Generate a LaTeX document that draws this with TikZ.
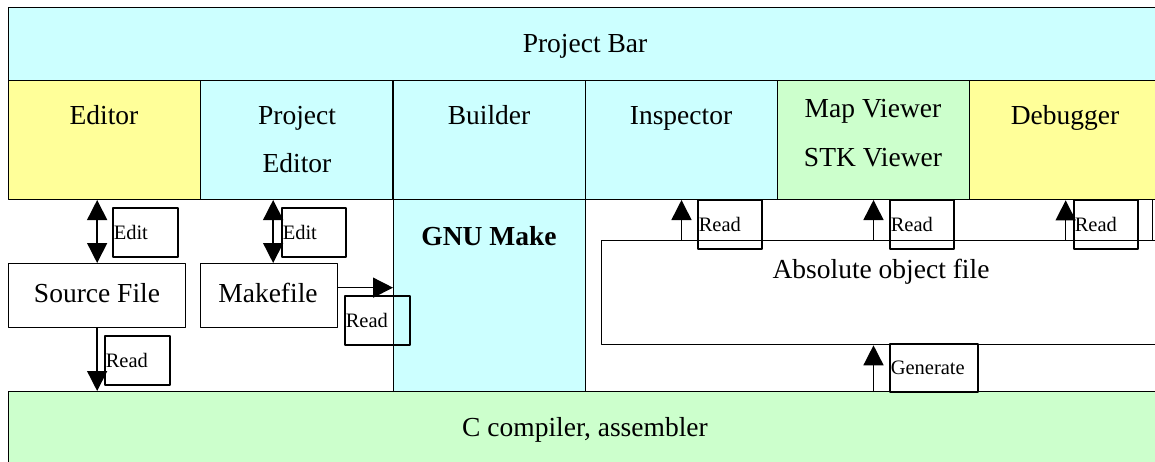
\documentclass[tikz,border=0pt]{standalone}
\usepackage{fontspec}
\setmainfont{Liberation Serif}
\usetikzlibrary{arrows.meta,positioning}
\definecolor{cyanbg}{HTML}{CCFFFF}
\definecolor{yelbg}{HTML}{FFFF99}
\definecolor{grnbg}{HTML}{CCFFCC}
\begin{document}
\begin{tikzpicture}[x=1pt, y=-1pt, line join=round, >={Triangle[width=20pt,length=20pt]},
  font=\rmfamily\fontsize{27.5pt}{48pt}\selectfont,
  blk/.style={draw, line width=1.3pt, anchor=north west, inner sep=0pt},
  tool/.style={draw, line width=1pt, anchor=north west, minimum width=192pt, minimum height=119pt, inner sep=0pt},
  txt/.style={anchor=base, inner sep=0pt},
  lbl/.style={draw, line width=1.5pt, anchor=north west, align=left, inner sep=1pt, minimum height=49pt,
    font=\rmfamily\fontsize{20.5pt}{24pt}\selectfont},
  arr/.style={line width=1.5pt}]
 \useasboundingbox (0,0) rectangle (1155,461);
 \clip (0,0) rectangle (1155,461);
 \node (bar) [blk, fill=cyanbg, minimum width=1154pt, minimum height=73pt] at (8,7) {};
 \node [txt] at (585,52) {Project Bar};
 \node (ed) [tool, fill=yelbg] at (8,80) {};
 \node (pe) [tool, fill=cyanbg] at (200,80) {};
 \node (bu) [tool, fill=cyanbg, line width=1.3pt] at (393,80) {};
 \node (in) [tool, fill=cyanbg] at (585,80) {};
 \node (mv) [tool, fill=grnbg] at (777,80) {};
 \node (db) [tool, fill=yelbg, line width=1.3pt] at (969,80) {};
 \node [txt] at (104,124) {Editor};
 \node [txt] at (297,124) {Project};
 \node [txt] at (297,172) {Editor};
 \node [txt] at (489,124) {Builder};
 \node [txt] at (681,124) {Inspector};
 \node [txt] at (873,117) {Map Viewer};
 \node [txt] at (873,166) {STK Viewer};
 \node [txt] at (1065,124) {Debugger};
 \node (gnu) [tool, fill=cyanbg, minimum height=192pt] at (393,199) {};
 \node [txt] at (489,245) {\bfseries GNU Make};
 \node (cc) [blk, fill=grnbg, minimum width=1154pt, minimum height=74pt] at (8,391) {};
 \node [txt] at (585,436) {C compiler, assembler};
 \node (abs) [blk, fill=white, minimum width=561pt, minimum height=104pt] at (601,240) {};
 \node [txt] at (881,278) {Absolute object file};
 \node (src) [blk, fill=white, minimum width=177pt, minimum height=64pt] at (8,263) {};
 \node [txt] at (97,302) {Source File};
 \node (mk) [blk, fill=white, minimum width=137pt, minimum height=64pt] at (200,263) {};
 \node [txt] at (268,302) {Makefile};
 \node (e1) [lbl, text width=63pt] at (112,207) {Edit};
 \node (e2) [lbl, text width=62pt] at (281,207) {Edit};
 \node (r1) [lbl, text width=63pt] at (344,295) {Read};
 \node (r2) [lbl, text width=63pt] at (104,335) {Read};
 \node (r3) [lbl, text width=62pt] at (697,199) {Read};
 \node (r4) [lbl, text width=62pt] at (889,199) {Read};
 \node (r5) [lbl, text width=62pt] at (1073,199) {Read};
 \node (gen) [lbl, text width=86pt, minimum height=48pt] at (889,343) {Generate};
 \draw[line width=1pt] (1152,199) -- (1152,240);
 \draw[arr, <->] (src.north) -- (src.north |- ed.south);
 \draw[arr, <->] ([xshift=4pt]mk.north) coordinate (m1) -- (m1 |- pe.south);
 \draw[arr, ->] ([yshift=8pt]mk.east) coordinate (m2) -- (m2 -| gnu.west);
 \draw[arr, ->] (src.south) -- (src.south |- cc.north);
 \draw[arr, ->] (abs.north -| in.south) -- (in.south);
 \draw[arr, ->] (abs.north -| mv.south) -- (mv.south);
 \draw[arr, ->] (abs.north -| db.south) -- (db.south);
 \draw[arr, ->] (cc.north -| mv.south) -- (abs.south -| mv.south);
\end{tikzpicture}
\end{document}
